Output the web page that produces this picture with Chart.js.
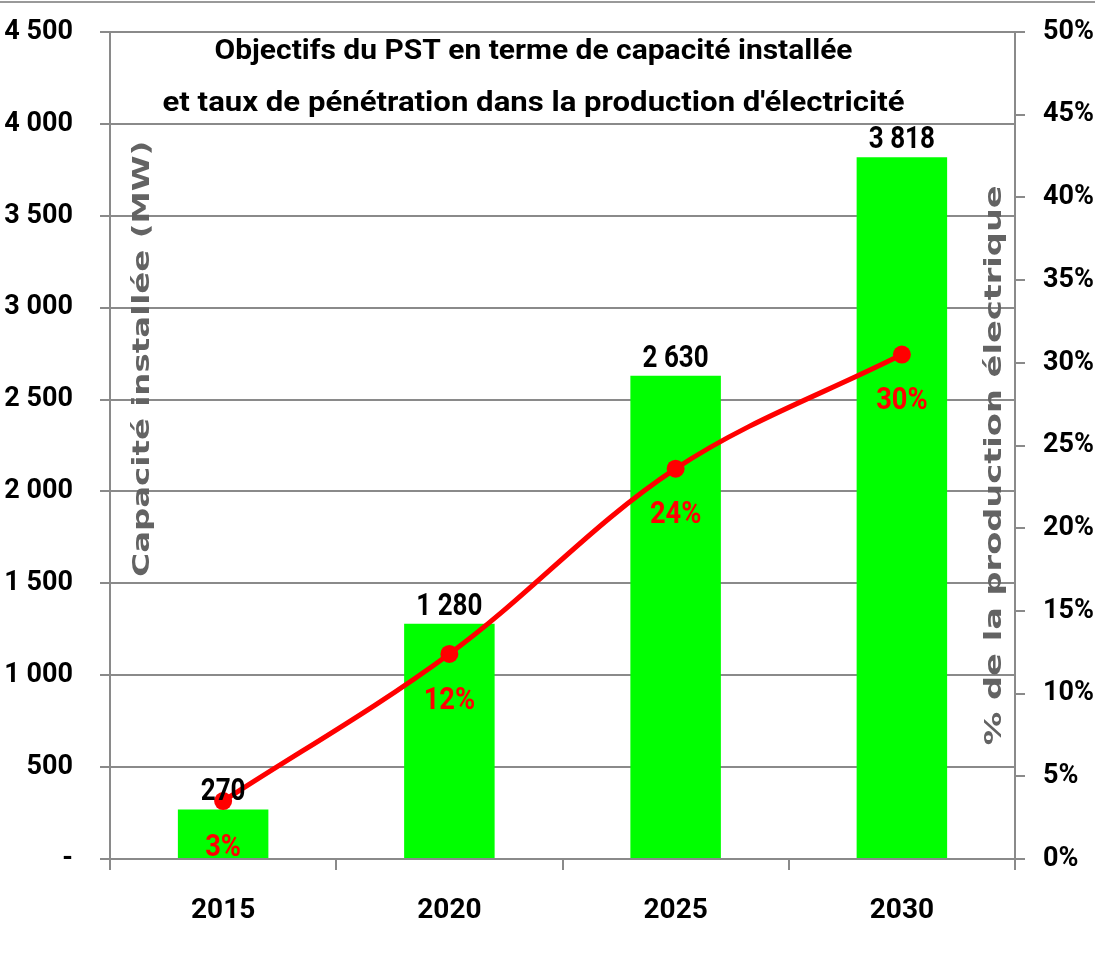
<!DOCTYPE html>
<html>
<head>
<meta charset="utf-8">
<script src="https://cdn.jsdelivr.net/npm/chart.js@4"></script>
<style>
  html, body { margin: 0; padding: 0; background: #fff; }
  #wrap { width: 1095px; height: 960px; position: relative; }
</style>
</head>
<body>
<div id="wrap"><canvas id="pstChart"></canvas></div>
<script>
const years = ["2015", "2020", "2025", "2030"];
const capacityMW = [270, 1280, 2630, 3818];
const capacityLabels = ["270", "1 280", "2 630", "3 818"];
const sharePct = [3.5, 12.4, 23.6, 30.5];
const shareLabels = ["3%", "12%", "24%", "30%"];
const leftTicks = ["-", "500", "1 000", "1 500", "2 000", "2 500", "3 000", "3 500", "4 000", "4 500"];
const rightTicks = ["0%", "5%", "10%", "15%", "20%", "25%", "30%", "35%", "40%", "45%", "50%"];
const titleLines = [
  "Objectifs du PST en terme de capacité installée",
  "et taux de pénétration dans la production d'électricité"
];

const sans = 'Roboto, "Liberation Sans", sans-serif';
const gridGrey = "#8a8a8a";

// draw text squeezed or stretched along its own direction
function drawFit(ctx, text, x, y, width) {
  const w = ctx.measureText(text).width;
  ctx.save();
  ctx.translate(x, y);
  ctx.scale(width / w, 1);
  ctx.fillText(text, 0, 0);
  ctx.restore();
}

function drawSquashed(ctx, text, x, y, sx) {
  ctx.save();
  ctx.translate(x, y);
  ctx.scale(sx, 1);
  ctx.fillText(text, 0, 0);
  ctx.restore();
}

const extras = {
  id: "extras",
  afterDatasetsDraw(chart) {
    const ctx = chart.ctx;
    const bars = chart.getDatasetMeta(1).data;
    const pts = chart.getDatasetMeta(0).data;
    ctx.save();
    ctx.textAlign = "center";
    ctx.textBaseline = "alphabetic";
    ctx.font = "bold 31px " + sans;
    ctx.fillStyle = "#000";
    bars.forEach((b, i) => drawSquashed(ctx, capacityLabels[i], b.x, b.y - 9, 0.84));
    ctx.fillStyle = "#ff0000";
    ctx.textBaseline = "middle";
    pts.forEach((p, i) => drawSquashed(ctx, shareLabels[i], p.x, p.y + 47, 0.88));
    ctx.restore();
  },
  afterDraw(chart) {
    const ctx = chart.ctx;
    const a = chart.chartArea;
    ctx.save();
    // top frame line
    ctx.strokeStyle = "#999";
    ctx.lineWidth = 2;
    ctx.beginPath();
    ctx.moveTo(0, 2);
    ctx.lineTo(chart.width, 2);
    ctx.stroke();
    // title
    ctx.fillStyle = "#000";
    ctx.font = "bold 28px " + sans;
    ctx.textAlign = "center";
    ctx.textBaseline = "middle";
    const cx = a.left + (a.right - a.left) * 0.468;
    drawFit(ctx, titleLines[0], cx, a.top + 20, 638);
    drawFit(ctx, titleLines[1], cx, a.top + 72, 742);
    // axis titles inside plot area
    ctx.fillStyle = "#636363";
    ctx.font = "bold 23px 'DejaVu Sans', sans-serif";
    ctx.save();
    ctx.translate(a.left + 33, a.top + (a.bottom - a.top) * 0.395);
    ctx.rotate(-Math.PI / 2);
    drawFit(ctx, "Capacité installée (MW)", 0, 0, 436);
    ctx.restore();
    ctx.save();
    ctx.translate(a.right - 20, a.top + (a.bottom - a.top) * 0.524);
    ctx.rotate(-Math.PI / 2);
    drawFit(ctx, "% de la production électrique", 0, 0, 560);
    ctx.restore();
    ctx.restore();
  }
};

function fixY(width) {
  return s => {
    s.width = width;
    s.paddingTop = 0;
    s.paddingBottom = 0;
  };
}

new Chart(document.getElementById("pstChart"), {
  data: {
    labels: years,
    datasets: [
      {
        type: "line",
        data: sharePct,
        yAxisID: "y1",
        borderColor: "#ff0000",
        borderWidth: 5,
        backgroundColor: "#ff0000",
        pointRadius: 9,
        pointBackgroundColor: "#ff0000",
        pointBorderWidth: 0,
        tension: 0.35,
        order: 0
      },
      {
        type: "bar",
        data: capacityMW,
        yAxisID: "y",
        backgroundColor: "#00ff00",
        barPercentage: 0.4,
        categoryPercentage: 1,
        order: 1
      }
    ]
  },
  options: {
    responsive: true,
    maintainAspectRatio: false,
    animation: false,
    layout: { padding: { top: 32, left: 0, right: 0, bottom: 0 } },
    plugins: { legend: { display: false }, tooltip: { enabled: false } },
    scales: {
      x: {
        afterFit: s => { s.height = 101; },
        grid: { offset: true, drawOnChartArea: false, color: gridGrey, lineWidth: 2, tickLength: 11 },
        border: { color: gridGrey, width: 2 },
        ticks: { color: "#000", font: { family: sans, size: 28, weight: "bold" }, padding: 24 }
      },
      y: {
        position: "left",
        min: 0,
        max: 4500,
        afterFit: fixY(110),
        grid: { color: gridGrey, lineWidth: 2, tickLength: 10 },
        border: { color: gridGrey, width: 2 },
        ticks: {
          stepSize: 500,
          color: "#000",
          padding: 27,
          font: { family: sans, size: 27, weight: "bold" },
          callback: (v, i) => leftTicks[i]
        }
      },
      y1: {
        position: "right",
        min: 0,
        max: 50,
        afterFit: fixY(80),
        grid: { drawOnChartArea: false, color: gridGrey, lineWidth: 2, tickLength: 10 },
        border: { color: gridGrey, width: 2 },
        ticks: {
          stepSize: 5,
          color: "#000",
          padding: 18,
          font: { family: sans, size: 27, weight: "bold" },
          callback: (v, i) => rightTicks[i]
        }
      }
    }
  },
  plugins: [extras]
});
</script>
</body>
</html>
